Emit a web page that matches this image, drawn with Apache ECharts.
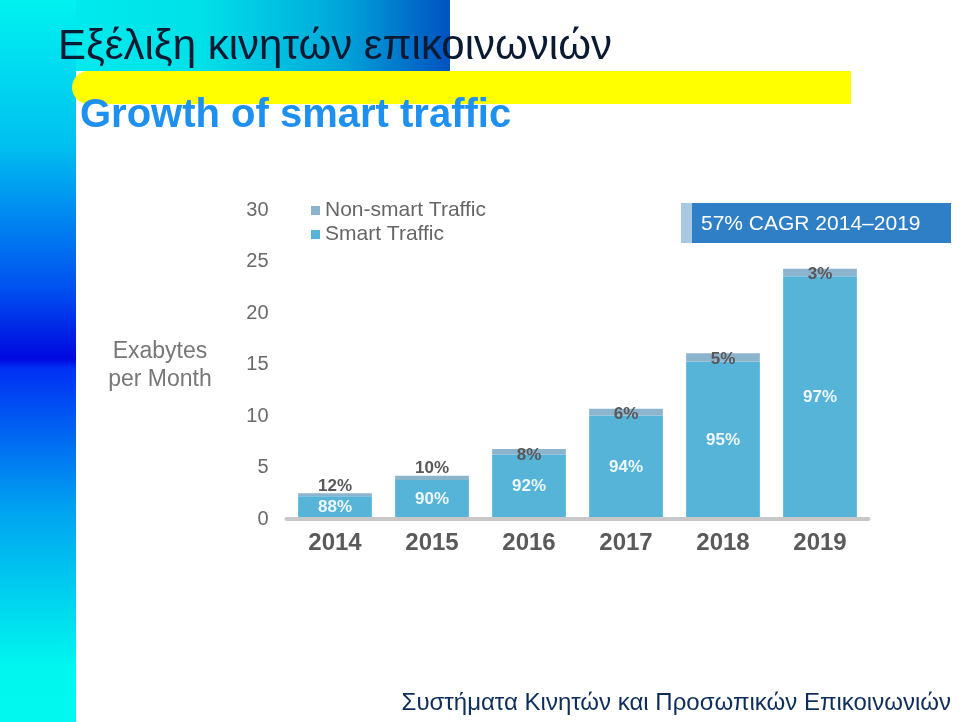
<!DOCTYPE html>
<html>
<head>
<meta charset="utf-8">
<script src="https://cdn.jsdelivr.net/npm/echarts@6/dist/echarts.min.js"></script>
<style>html,body{margin:0;padding:0;background:#fff;}#main{width:960px;height:722px;}</style>
</head>
<body>
<div id="main"></div>
<script>
// ---- data ----
var years = ['2014', '2015', '2016', '2017', '2018', '2019'];
var totalExabytes = [2.5, 4.2, 6.8, 10.7, 16.1, 24.3];
var smartPct = [88, 90, 92, 94, 95, 97];
var nonSmartPct = [12, 10, 8, 6, 5, 3];
var yTicks = [0, 5, 10, 15, 20, 25, 30];
var seriesNames = ['Non-smart Traffic', 'Smart Traffic'];
var titleText = 'Εξέλιξη κινητών επικοινωνιών';
var subtitleText = 'Growth of smart traffic';
var footerText = 'Συστήματα Κινητών και Προσωπικών Επικοινωνιών';
var yAxisTitle = 'Exabytes\nper Month';
var cagrText = '57% CAGR 2014–2019';

// ---- build ----
var FONT = '"Liberation Sans", Arial, Helvetica, sans-serif';
var smartValues = totalExabytes.map(function (t, i) { return t * smartPct[i] / 100; });
var nonSmartValues = totalExabytes.map(function (t, i) { return t * nonSmartPct[i] / 100; });

var smartData = smartValues.map(function (v, i) {
  return { value: v, label: { formatter: smartPct[i] + '%' } };
});
var nonSmartData = nonSmartValues.map(function (v, i) {
  var above = totalExabytes[i] < 5;
  return {
    value: v,
    label: {
      formatter: nonSmartPct[i] + '%',
      position: ['50%', above ? -7 : 6],
      align: 'center',
      verticalAlign: 'middle'
    }
  };
});

var chart = echarts.init(document.getElementById('main'), null, { renderer: 'canvas' });
var option = {
  backgroundColor: '#ffffff',
  animation: false,
  textStyle: { fontFamily: FONT },
  grid: { left: 286.5, right: 91.5, top: 210, bottom: 203, containLabel: false },
  legend: {
    data: seriesNames,
    orient: 'vertical',
    left: 311,
    top: 200,
    padding: 0,
    itemWidth: 9,
    itemHeight: 9,
    itemGap: 3,
    icon: 'rect',
    textStyle: { fontSize: 21, color: '#666666', fontFamily: FONT, padding: [0, 0, 0, 0] }
  },
  xAxis: {
    type: 'category',
    data: years,
    z: 5,
    axisLine: { show: true, lineStyle: { color: '#c8c8c8', width: 4 } },
    axisTick: { show: false },
    axisLabel: { margin: 12, fontSize: 24, fontWeight: 'bold', color: '#5a5a5a', fontFamily: FONT },
    splitLine: { show: false }
  },
  yAxis: {
    type: 'value',
    min: yTicks[0],
    max: yTicks[yTicks.length - 1],
    interval: yTicks[1] - yTicks[0],
    axisLine: { show: false },
    axisTick: { show: false },
    splitLine: { show: false },
    axisLabel: { margin: 18, fontSize: 20, color: '#6a6a6a', fontFamily: FONT }
  },
  series: [
    {
      name: seriesNames[1],
      type: 'bar',
      stack: 'traffic',
      barCategoryGap: '24%',
      itemStyle: { color: '#56b4d9' },
      label: { show: true, position: 'inside', fontSize: 17, fontWeight: 'bold', color: '#eef7fb', fontFamily: FONT },
      data: smartData
    },
    {
      name: seriesNames[0],
      type: 'bar',
      stack: 'traffic',
      barCategoryGap: '24%',
      itemStyle: { color: '#8db4cd' },
      label: { show: true, fontSize: 17, fontWeight: 'bold', color: '#585858', fontFamily: FONT },
      data: nonSmartData
    }
  ],
  graphic: [
    {
      type: 'rect', z: -10, silent: true,
      shape: { x: 0, y: 0, width: 450, height: 71 },
      style: {
        fill: new echarts.graphic.LinearGradient(0, 0, 1, 0, [
          { offset: 0, color: '#00f0f0' },
          { offset: 0.45, color: '#00e0e8' },
          { offset: 0.75, color: '#00a8da' },
          { offset: 1, color: '#0052c0' }
        ])
      }
    },
    {
      type: 'rect', z: -9, silent: true,
      shape: { x: 0, y: 0, width: 76, height: 722 },
      style: {
        fill: new echarts.graphic.LinearGradient(0, 0, 0, 1, [
          { offset: 0, color: '#00f2f0' },
          { offset: 0.2, color: '#00c0f0' },
          { offset: 0.4, color: '#0050f0' },
          { offset: 0.497, color: '#0008e0' },
          { offset: 0.51, color: '#0030f4' },
          { offset: 0.7, color: '#00a0f0' },
          { offset: 0.92, color: '#00f6ee' },
          { offset: 1, color: '#00f8ee' }
        ])
      }
    },
    {
      type: 'rect', z: -8, silent: true,
      shape: { x: 72, y: 71, width: 779, height: 33, r: [16.5, 0, 0, 16.5] },
      style: { fill: '#ffff00' }
    },
    {
      type: 'text', z: 10, silent: true, x: 58, y: 47,
      style: { text: titleText, fill: '#0b1a33', font: '42px ' + FONT, align: 'left', verticalAlign: 'middle' }
    },
    {
      type: 'text', z: 10, silent: true, x: 80, y: 116,
      style: { text: subtitleText, fill: '#1e90f0', font: 'bold 40px ' + FONT, align: 'left', verticalAlign: 'middle' }
    },
    {
      type: 'text', z: 10, silent: true, x: 951, y: 703,
      style: { text: footerText, fill: '#0d2d5a', font: '24px ' + FONT, align: 'right', verticalAlign: 'middle' }
    },
    {
      type: 'text', z: 10, silent: true, x: 160, y: 366,
      style: { text: yAxisTitle, fill: '#777777', font: '23px ' + FONT, lineHeight: 28, align: 'center', verticalAlign: 'middle' }
    },
    {
      type: 'rect', z: 1, silent: true,
      shape: { x: 681, y: 203, width: 12, height: 40 },
      style: { fill: '#a9c8e4' }
    },
    {
      type: 'rect', z: 1, silent: true,
      shape: { x: 692, y: 203, width: 259, height: 40 },
      style: { fill: '#2f7fc6' }
    },
    {
      type: 'text', z: 10, silent: true, x: 701, y: 224,
      style: { text: cagrText, fill: '#ffffff', font: '21px ' + FONT, align: 'left', verticalAlign: 'middle' }
    }
  ]
};
chart.setOption(option);
</script>
</body>
</html>
